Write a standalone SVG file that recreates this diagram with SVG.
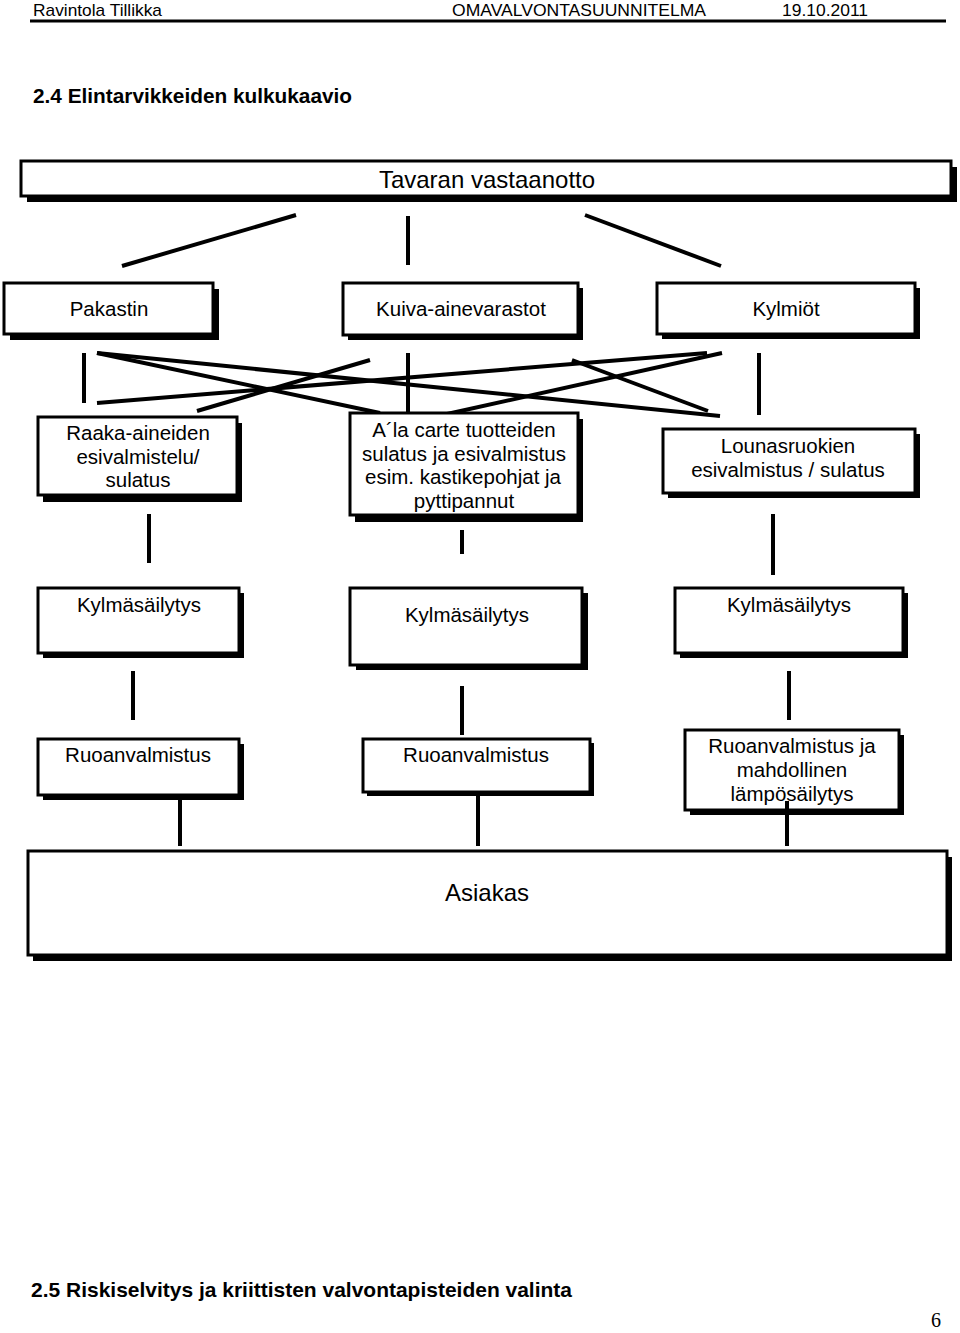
<svg xmlns="http://www.w3.org/2000/svg" width="960" height="1333" viewBox="0 0 960 1333">
<style>
text{font-family:"Liberation Sans",Arial,sans-serif;fill:#000}
.hd{font-size:17px}
.ttl{font-size:21px;font-weight:bold}
.t{font-size:20.5px;text-anchor:middle}
.big{font-size:24px;text-anchor:middle}
.sh{fill:#000}
.bx{fill:#fff;stroke:#000;stroke-width:3}
.c line{stroke:#000;stroke-width:4}
</style>
<rect width="960" height="1333" fill="#fff"/>
<g id="header">
<text class="hd" x="33" y="16" textLength="129" lengthAdjust="spacingAndGlyphs">Ravintola Tillikka</text>
<text class="hd" x="452" y="16" textLength="254" lengthAdjust="spacingAndGlyphs">OMAVALVONTASUUNNITELMA</text>
<text class="hd" x="782" y="16" textLength="86" lengthAdjust="spacingAndGlyphs">19.10.2011</text>
<line x1="30" y1="21" x2="946" y2="21" stroke="#000" stroke-width="3"/>
<text class="ttl" x="33" y="103" textLength="319" lengthAdjust="spacingAndGlyphs">2.4 Elintarvikkeiden kulkukaavio</text>
</g>
<g class="c" id="connectors">
<line x1="296" y1="215" x2="122" y2="266"/>
<line x1="408" y1="216" x2="408" y2="265"/>
<line x1="585" y1="215" x2="721" y2="266"/>
<line x1="84" y1="353" x2="84" y2="403"/>
<line x1="97" y1="353" x2="720" y2="416"/>
<line x1="97" y1="353" x2="380" y2="413"/>
<line x1="97" y1="403" x2="707" y2="353"/>
<line x1="370" y1="360" x2="197" y2="411"/>
<line x1="722" y1="353" x2="447" y2="414"/>
<line x1="572" y1="360" x2="708" y2="411"/>
<line x1="408" y1="353" x2="408" y2="412"/>
<line x1="759" y1="353" x2="759" y2="415"/>
<line x1="149" y1="514" x2="149" y2="563"/>
<line x1="462" y1="530" x2="462" y2="554"/>
<line x1="773" y1="514" x2="773" y2="575"/>
<line x1="133" y1="671" x2="133" y2="720"/>
<line x1="462" y1="686" x2="462" y2="735"/>
<line x1="789" y1="671" x2="789" y2="720"/>
<line x1="180" y1="800" x2="180" y2="846"/>
<line x1="478" y1="795" x2="478" y2="846"/>
</g>
<g id="n-tavaran">
<rect class="sh" x="27" y="167" width="930" height="35"/>
<rect class="bx" x="21" y="161" width="930" height="35"/>
<text class="big" x="487" y="188">Tavaran vastaanotto</text>
</g>
<g id="n-pakastin">
<rect class="sh" x="10" y="289" width="209" height="51"/>
<rect class="bx" x="4" y="283" width="209" height="51"/>
<text class="t" x="109" y="316">Pakastin</text>
</g>
<g id="n-kuiva">
<rect class="sh" x="348" y="288" width="235" height="52"/>
<rect class="bx" x="343" y="283" width="235" height="52"/>
<text class="t" x="461" y="316">Kuiva-ainevarastot</text>
</g>
<g id="n-kylmiot">
<rect class="sh" x="662" y="288" width="258" height="51"/>
<rect class="bx" x="657" y="283" width="258" height="51"/>
<text class="t" x="786" y="316">Kylmiöt</text>
</g>
<g id="n-raaka">
<rect class="sh" x="43" y="423" width="199" height="79"/>
<rect class="bx" x="38" y="417" width="199" height="78"/>
<text class="t" x="138" y="440">Raaka-aineiden</text>
<text class="t" x="138" y="464">esivalmistelu/</text>
<text class="t" x="138" y="487">sulatus</text>
</g>
<g id="n-alacarte">
<rect class="sh" x="355" y="419" width="228" height="103"/>
<rect class="bx" x="350" y="413" width="228" height="102"/>
<text class="t" x="464" y="437">A´la carte tuotteiden</text>
<text class="t" x="464" y="460.5">sulatus ja esivalmistus</text>
<text class="t" x="463" y="484">esim. kastikepohjat ja</text>
<text class="t" x="464" y="507.5">pyttipannut</text>
</g>
<g id="n-lounas">
<rect class="sh" x="668" y="434" width="252" height="64"/>
<rect class="bx" x="663" y="429" width="252" height="64"/>
<text class="t" x="788" y="453">Lounasruokien</text>
<text class="t" x="788" y="477">esivalmistus / sulatus</text>
</g>
<g id="n-kylma1">
<rect class="sh" x="43" y="593" width="201" height="65"/>
<rect class="bx" x="38" y="588" width="201" height="65"/>
<text class="t" x="139" y="612">Kylmäsäilytys</text>
</g>
<g id="n-kylma2">
<rect class="sh" x="356" y="593" width="232" height="77"/>
<rect class="bx" x="350" y="588" width="232" height="77"/>
<text class="t" x="467" y="622">Kylmäsäilytys</text>
</g>
<g id="n-kylma3">
<rect class="sh" x="680" y="593" width="228" height="65"/>
<rect class="bx" x="675" y="588" width="228" height="65"/>
<text class="t" x="789" y="612">Kylmäsäilytys</text>
</g>
<g id="n-ruoan1">
<rect class="sh" x="43" y="744" width="201" height="56"/>
<rect class="bx" x="38" y="739" width="201" height="56"/>
<text class="t" x="138" y="762">Ruoanvalmistus</text>
</g>
<g id="n-ruoan2">
<rect class="sh" x="367" y="743" width="227" height="53"/>
<rect class="bx" x="363" y="739" width="227" height="53"/>
<text class="t" x="476" y="762">Ruoanvalmistus</text>
</g>
<g id="n-ruoan3">
<rect class="sh" x="690" y="735" width="214" height="80"/>
<rect class="bx" x="685" y="730" width="214" height="80"/>
<text class="t" x="792" y="753">Ruoanvalmistus ja</text>
<text class="t" x="792" y="777">mahdollinen</text>
<text class="t" x="792" y="801">lämpösäilytys</text>
</g>
<g class="c" id="connector-ruoan3">
<line x1="787" y1="801" x2="787" y2="846"/>
</g>
<g id="n-asiakas">
<rect class="sh" x="33" y="857" width="919" height="104"/>
<rect class="bx" x="28" y="851" width="919" height="104"/>
<text class="big" x="487" y="901">Asiakas</text>
</g>
<g id="footer">
<text class="ttl" x="31" y="1297" textLength="541" lengthAdjust="spacingAndGlyphs">2.5 Riskiselvitys ja kriittisten valvontapisteiden valinta</text>
<text x="931" y="1327" style="font-family:'Liberation Serif','Times New Roman',serif;font-size:20px">6</text>
</g>
</svg>
